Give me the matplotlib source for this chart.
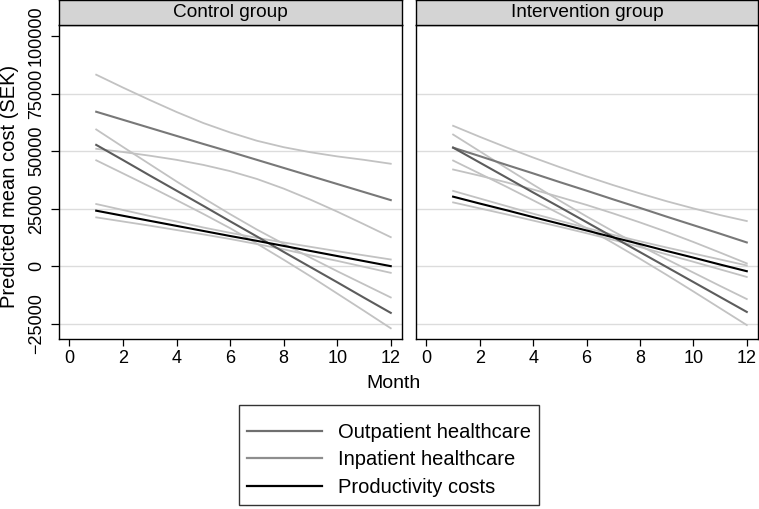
import numpy as np
import matplotlib
matplotlib.use("Agg")
import matplotlib.pyplot as plt
from matplotlib import rcParams
from matplotlib.lines import Line2D

config = {
    "font.family": ["Liberation Sans", "DejaVu Sans"],
    "font.size": 13,
    "axes.unicode_minus": True,
}
rcParams.update(config)

months = [1, 2, 3, 4, 5, 6, 7, 8, 9, 10, 11, 12]
panels = ["Control group", "Intervention group"]
series_names = ["Outpatient healthcare", "Inpatient healthcare", "Productivity costs"]

# Control group: predicted mean, upper and lower confidence limits
ctrl_out = [52700, 46100, 39400, 32800, 26200, 19500, 12900, 6200, -400, -7000, -13700, -20300]
ctrl_out_hi = [59400, 51800, 44300, 36800, 29600, 22600, 15900, 9700, 3700, -2200, -7900, -13600]
ctrl_out_lo = [46000, 40300, 34600, 28700, 22700, 16500, 9800, 2800, -4400, -11900, -19400, -27000]
ctrl_inp = [67100, 63600, 60100, 56600, 53100, 49700, 46200, 42700, 39200, 35700, 32200, 28700]
ctrl_inp_hi = [83200, 77600, 72200, 67000, 62200, 58100, 54500, 51700, 49500, 47700, 46200, 44500]
ctrl_inp_lo = [51000, 49600, 48000, 46200, 44000, 41300, 37900, 33700, 28900, 23700, 18200, 12600]
ctrl_prod = [24100, 21900, 19700, 17500, 15300, 13100, 11000, 8800, 6600, 4400, 2200, 0]
ctrl_prod_hi = [27000, 24400, 21800, 19400, 16800, 14500, 12300, 10300, 8400, 6500, 4700, 2900]
ctrl_prod_lo = [21200, 19400, 17600, 15700, 13800, 11800, 9600, 7300, 4700, 2300, -300, -2900]

# Intervention group
intv_out = [51500, 45000, 38500, 32000, 25600, 19100, 12600, 6100, -400, -6900, -13400, -19900]
intv_out_hi = [57200, 49900, 42600, 35400, 28400, 21600, 15100, 8900, 3000, -2800, -8600, -14300]
intv_out_lo = [45900, 40200, 34500, 28600, 22700, 16500, 10000, 3200, -3800, -11000, -18300, -25600]
intv_inp = [51500, 47800, 44000, 40300, 36500, 32800, 29000, 25300, 21500, 17800, 14100, 10300]
intv_inp_hi = [61000, 56200, 51600, 47200, 43000, 39000, 35200, 31600, 28200, 25100, 22200, 19600]
intv_inp_lo = [42000, 39300, 36400, 33300, 30000, 26600, 22900, 19000, 14900, 10500, 5900, 1200]
intv_prod = [30200, 27200, 24300, 21300, 18400, 15500, 12500, 9600, 6600, 3700, 700, -2200]
intv_prod_hi = [32700, 29400, 26100, 22800, 19700, 16600, 13600, 10800, 8100, 5500, 2900, 300]
intv_prod_lo = [27700, 25100, 22500, 19800, 17100, 14300, 11400, 8300, 5100, 1900, -1400, -4700]

y_ticks = [-25000, 0, 25000, 50000, 75000, 100000]
y_grid = [-25000, 0, 25000, 50000, 75000]
x_ticks = [0, 2, 4, 6, 8, 10, 12]

colors = {"out": "#5c5c5c", "inp": "#787878", "prod": "#000000", "ci": "#c2c2c2"}


def draw_panel(ax, data, title, fig, show_y):
    # confidence limits first, then the predictions on top
    for key in ["out", "inp", "prod"]:
        mean, hi, lo = data[key]
        ax.plot(months, hi, color=colors["ci"], lw=1.3, zorder=2)
        ax.plot(months, lo, color=colors["ci"], lw=1.3, zorder=2)
    for key in ["inp", "out", "prod"]:
        mean, hi, lo = data[key]
        ax.plot(months, mean, color=colors[key], lw=1.5, zorder=3)

    for g in y_grid:
        ax.axhline(g, color="#dcdcdc", lw=1.0, zorder=1)

    ax.set_xlim(-0.39, 12.42)
    ax.set_ylim(-31660, 104800)
    ax.set_xticks(x_ticks)
    ax.set_xticklabels([str(x) for x in x_ticks])
    ax.tick_params(axis="x", length=5, width=0.9, pad=3, labelsize=13)
    if show_y:
        ax.set_yticks(y_ticks)
        ax.set_yticklabels([f"{v}".replace("-", "\u2212") for v in y_ticks],
                           rotation=90, va="center")
        ax.tick_params(axis="y", length=6, width=0.9, pad=4, labelsize=13)
    else:
        ax.set_yticks([])
    for sp in ax.spines.values():
        sp.set_color("black")
        sp.set_linewidth(1.0)

    # strip title on top of the panel
    pos = ax.get_position()
    strip = fig.add_axes([pos.x0, pos.y1, pos.width, 1 - pos.y1])
    strip.set_facecolor("#d4d4d4")
    strip.set_xticks([])
    strip.set_yticks([])
    for sp in strip.spines.values():
        sp.set_color("black")
        sp.set_linewidth(1.0)
    strip.text(0.5, 0.5, title, ha="center", va="center", fontsize=13.7,
               transform=strip.transAxes)


if __name__ == "__main__":
    W, H = 759, 509
    fig = plt.figure(figsize=(W / 100, H / 100), dpi=100)

    ax1 = fig.add_axes([59 / W, 1 - 339 / H, 343 / W, 314 / H])
    ax2 = fig.add_axes([416 / W, 1 - 339 / H, 342 / W, 314 / H])

    ctrl = {"out": (ctrl_out, ctrl_out_hi, ctrl_out_lo),
            "inp": (ctrl_inp, ctrl_inp_hi, ctrl_inp_lo),
            "prod": (ctrl_prod, ctrl_prod_hi, ctrl_prod_lo)}
    intv = {"out": (intv_out, intv_out_hi, intv_out_lo),
            "inp": (intv_inp, intv_inp_hi, intv_inp_lo),
            "prod": (intv_prod, intv_prod_hi, intv_prod_lo)}

    draw_panel(ax1, ctrl, panels[0], fig, True)
    draw_panel(ax2, intv, panels[1], fig, False)

    fig.text(10 / W, 1 - 186 / H, "Predicted mean cost (SEK)", rotation=90,
             ha="center", va="center", fontsize=14.5)
    fig.text(393 / W, 1 - 383 / H, "Month", ha="center", va="center", fontsize=14)

    handles = [Line2D([], [], color="#6f6f6f", lw=1.6),
               Line2D([], [], color="#8e8e8e", lw=1.6),
               Line2D([], [], color="black", lw=1.6)]
    # empty title gives the extra space above the first row
    leg = fig.legend(handles, series_names, loc="upper left",
                     bbox_to_anchor=(239 / W, 1 - 405 / H), fontsize=14.5,
                     title=" ", title_fontsize=1,
                     frameon=True, fancybox=False, edgecolor="black",
                     handlelength=3.68, handletextpad=0.8, labelspacing=0.42,
                     borderpad=0.42, borderaxespad=0)
    leg.get_frame().set_linewidth(1.0)

    fig.savefig("out.png", dpi=100)
